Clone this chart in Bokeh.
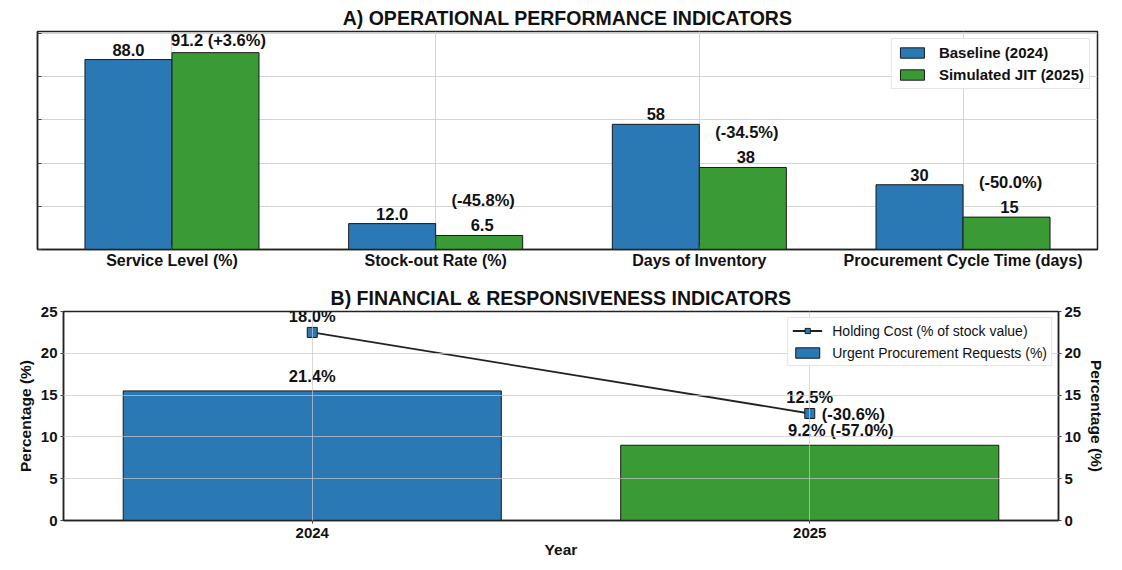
from bokeh.plotting import figure
from bokeh.models import (ColumnDataSource, Range1d, LinearAxis, FixedTicker,
                          Legend, LegendItem, CustomJSTickFormatter)
from bokeh.embed import file_html
from bokeh.resources import INLINE
from bokeh.core.properties import value

# ---------------- Panel A data ----------------
categories = ["Service Level (%)", "Stock-out Rate (%)", "Days of Inventory",
              "Procurement Cycle Time (days)"]
baseline_2024 = [88.0, 12.0, 58, 30]
jit_2025 = [91.2, 6.5, 38, 15]
baseline_labels = ["88.0", "12.0", "58", "30"]
jit_labels = ["91.2 (+3.6%)", "6.5", "38", "15"]
jit_change_labels = ["", "(-45.8%)", "(-34.5%)", "(-50.0%)"]
a_ticks = [0, 20, 40, 60, 80, 100]

# ---------------- Panel B data ----------------
years = ["2024", "2025"]
urgent_requests = [15.5, 9.0]
urgent_labels = ["21.4%", "9.2% (-57.0%)"]
holding_cost = [22.5, 12.8]
holding_labels = ["18.0%", "12.5%"]
holding_change_labels = ["", "(-30.6%)"]
b_ticks = [0, 5, 10, 15, 20, 25]

BLUE = "#2a78b4"
GREEN = "#3a9a35"
FONT = "Liberation Sans"
GRID = "#d4d4d4"

# ================= Panel A =================
n = len(categories)
xs = list(range(n))
bw = 0.33
src_a = ColumnDataSource(dict(
    xb=[x - bw / 2 for x in xs], xg=[x + bw / 2 for x in xs],
    base=baseline_2024, jit=jit_2025,
    bl=baseline_labels, jl=jit_labels, jc=jit_change_labels))

pa = figure(width=1122, height=280, output_backend="svg", toolbar_location=None,
            x_range=Range1d(-0.51, n - 1 + 0.51), y_range=Range1d(0, 101),
            min_border_left=37, min_border_right=25, min_border_top=31,
            min_border_bottom=31)
pa.title.text = "A) OPERATIONAL PERFORMANCE INDICATORS"
pa.title.align = "center"
pa.title.text_font = FONT
pa.title.text_font_size = "19.5px"
pa.title.text_font_style = "bold"
pa.title.text_color = "#111111"
pa.title.standoff = 6

rb = pa.vbar(x="xb", top="base", width=bw, source=src_a, fill_color=BLUE,
             line_color="#1a1a1a", line_width=1)
rg = pa.vbar(x="xg", top="jit", width=bw, source=src_a, fill_color=GREEN,
             line_color="#1a1a1a", line_width=1)

lab_kw = dict(text_font=value(FONT), text_font_size="16.5px", text_font_style="bold",
              text_align="center", text_baseline="bottom", text_color="#111111")
pa.text(x="xb", y="base", text="bl", source=src_a, y_offset=-4, **lab_kw)
pa.text(x="xg", y="jit", text="jl", source=src_a, y_offset=-4, x_offset=3, **lab_kw)
pa.text(x="xg", y="jit", text="jc", source=src_a, y_offset=-26, x_offset=4, **lab_kw)

pa.xaxis.ticker = FixedTicker(ticks=xs)
pa.xaxis.major_label_overrides = {i: c for i, c in enumerate(categories)}
pa.yaxis.ticker = FixedTicker(ticks=a_ticks)
pa.yaxis.formatter = CustomJSTickFormatter(code="return ''")
for ax in (pa.xaxis[0], pa.yaxis[0]):
    ax.major_tick_in = 4
    ax.major_tick_out = 0
    ax.minor_tick_line_color = None
    ax.axis_line_color = "#222222"
    ax.axis_line_width = 1.5
    ax.major_tick_line_color = "#444444"
pa.xaxis.major_label_text_font = FONT
pa.xaxis.major_label_text_font_size = "16px"
pa.xaxis.major_label_text_font_style = "bold"
pa.xaxis.major_label_text_color = "#111111"
pa.xaxis.major_label_standoff = 2
pa.yaxis.major_label_standoff = 0
pa.grid.grid_line_color = GRID
pa.outline_line_color = "#222222"
pa.outline_line_width = 1.5

leg_a = Legend(items=[LegendItem(label="Baseline (2024)", renderers=[rb]),
                      LegendItem(label="Simulated JIT (2025)", renderers=[rg])],
               location="top_right")
leg_a.label_text_font = FONT
leg_a.label_text_font_size = "15px"
leg_a.label_text_font_style = "bold"
leg_a.label_text_color = "#111111"
leg_a.glyph_width = 30
leg_a.glyph_height = 13
leg_a.label_height = 17
leg_a.label_standoff = 12
leg_a.spacing = 5
leg_a.padding = 5
leg_a.margin = 7
leg_a.border_line_color = "#cccccc"
leg_a.background_fill_alpha = 0.9
pa.add_layout(leg_a)

# ================= Panel B =================
yx = list(range(len(years)))
src_b = ColumnDataSource(dict(
    x=yx, urg=urgent_requests, hold=holding_cost, color=[BLUE, GREEN],
    ul=urgent_labels, hl=holding_labels, hc=holding_change_labels,
    ulo=[0, 31]))

pb = figure(width=1122, height=286, output_backend="svg", toolbar_location=None,
            x_range=Range1d(-0.5, len(years) - 0.5), y_range=Range1d(0, 25),
            min_border_left=63, min_border_right=64, min_border_top=31,
            min_border_bottom=46)
pb.title.text = "B) FINANCIAL & RESPONSIVENESS INDICATORS"
pb.title.align = "center"
pb.title.text_font = FONT
pb.title.text_font_size = "19.5px"
pb.title.text_font_style = "bold"
pb.title.text_color = "#111111"
pb.title.standoff = 6
pb.extra_y_ranges = {"right": Range1d(0, 25)}

rbar = pb.vbar(x="x", top="urg", width=0.76, source=src_b, fill_color="color",
               line_color="#1a1a1a", line_width=1)
rline = pb.line(x="x", y="hold", source=src_b, line_color="#222222", line_width=1.8)
rmark = pb.scatter(x="x", y="hold", source=src_b, marker="square", size=10,
                   fill_color=BLUE, line_color="#1a1a1a", line_width=1)

pb.text(x="x", y="hold", text="hl", source=src_b, y_offset=-7, **lab_kw)
pb.text(x="x", y="urg", text="ul", source=src_b, y_offset=-6, x_offset="ulo", **lab_kw)
pb.text(x="x", y="hold", text="hc", source=src_b, x_offset=12, y_offset=1,
        text_font=value(FONT), text_font_size="16.5px", text_font_style="bold",
        text_align="left", text_baseline="middle", text_color="#111111")

raxis = LinearAxis(y_range_name="right", axis_label="Percentage (%)")
pb.add_layout(raxis, "right")
pb.yaxis.axis_label = "Percentage (%)"
pb.xaxis.axis_label = "Year"
pb.xaxis.ticker = FixedTicker(ticks=yx)
pb.xaxis.major_label_overrides = {i: y for i, y in enumerate(years)}
for ax in pb.yaxis:
    ax.ticker = FixedTicker(ticks=b_ticks)
for ax in list(pb.xaxis) + list(pb.yaxis):
    ax.major_tick_in = 0
    ax.major_tick_out = 3
    ax.minor_tick_line_color = None
    ax.axis_line_color = "#222222"
    ax.axis_line_width = 1.5
    ax.major_tick_line_color = "#444444"
    ax.major_label_text_font = FONT
    ax.major_label_text_font_size = "15px"
    ax.major_label_text_font_style = "bold"
    ax.major_label_text_color = "#111111"
    ax.major_label_standoff = 3
    ax.axis_label_text_font = FONT
    ax.axis_label_text_font_size = "15.5px"
    ax.axis_label_text_font_style = "bold"
    ax.axis_label_text_color = "#111111"
    ax.axis_label_standoff = 4
pb.xaxis.major_label_standoff = 4
pb.xaxis.axis_label_standoff = 0
pb.grid.grid_line_color = "#c8c8c8"
pb.grid.grid_line_alpha = 0.7
pb.grid.level = "overlay"
pb.outline_line_color = "#222222"
pb.outline_line_width = 1.5

leg_b = Legend(items=[LegendItem(label="Holding Cost (% of stock value)", renderers=[rline, rmark]),
                      LegendItem(label="Urgent Procurement Requests (%)", renderers=[rbar], index=0)],
               location="top_right")
leg_b.label_text_font = FONT
leg_b.label_text_font_size = "14px"
leg_b.label_text_color = "#111111"
leg_b.glyph_width = 30
leg_b.glyph_height = 13
leg_b.label_height = 17
leg_b.label_standoff = 10
leg_b.spacing = 5
leg_b.padding = 4
leg_b.margin = 6
leg_b.border_line_color = "#cccccc"
leg_b.background_fill_alpha = 0.9
pb.add_layout(leg_b)

open("out.html", "w").write(file_html([pa, pb], INLINE))
